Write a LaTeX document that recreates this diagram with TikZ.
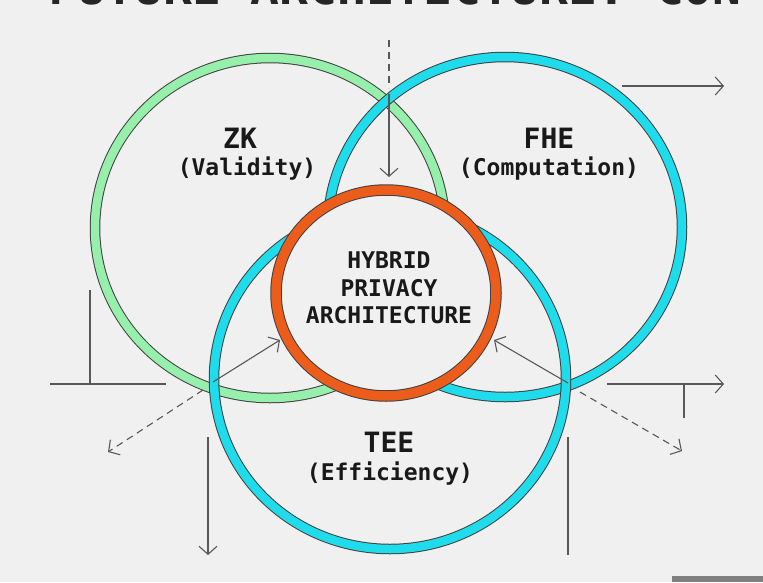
\documentclass[tikz,border=0pt]{standalone}
\usepackage{fontspec}
\setmonofont{DejaVu Sans Mono}
\usetikzlibrary{arrows.meta,calc}
\definecolor{paper}{RGB}{240,240,240}
\definecolor{zkgreen}{RGB}{150,240,172}
\definecolor{ringcyan}{RGB}{30,220,236}
\definecolor{hyborange}{RGB}{236,92,26}
\definecolor{ink}{RGB}{88,88,88}
\tikzset{
  ring/.style={line width=1pt, draw=black!75, double=#1, double distance=8.5pt},
  guide/.style={draw=ink, line width=1.1pt},
  barb/.style={-{Straight Barb[length=8pt,width=18pt,line width=1.1pt]}},
  dashline/.style={dash pattern=on 7pt off 5pt},
  areaname/.style={anchor=base, inner sep=0pt, text=black!90,
    font=\ttfamily\bfseries\fontsize{28}{30}\selectfont},
  areanote/.style={anchor=base, inner sep=0pt, text=black!90,
    font=\ttfamily\bfseries\fontsize{23}{27}\selectfont},
}

\begin{document}
\begin{tikzpicture}[x=1pt,y=-1pt]
  \clip (0,0) rectangle (763,582);
  \fill[paper] (0,0) rectangle (763,582);
  \node[anchor=base west, inner sep=0pt, text=black!85,
        font=\ttfamily\bfseries\fontsize{48}{50}\selectfont]
        (heading) at (48,4) {FUTURE ARCHITECTURE: CON};
  \fill[black!50] (672,576) rectangle (763,582);

  % the four rings
  \coordinate (zkc)  at (270,228);
  \coordinate (fhec) at (505,227);
  \coordinate (teec) at (390,379);
  \coordinate (hybc) at (386,293);
  \draw[ring=zkgreen]   (zkc)  ellipse [x radius=175pt, y radius=170pt];
  \draw[ring=ringcyan]  (fhec) ellipse [x radius=177pt, y radius=170pt];
  \draw[ring=ringcyan]  (teec) ellipse [x radius=176pt, y radius=170pt];
  \draw[ring=hyborange, double distance=9.5pt, fill=paper]
        (hybc) ellipse [x radius=110pt, y radius=103pt];

  \node[areaname] (zk)   at (240,148) {ZK};
  \node[areanote] (zkn)  at (247,175) {(Validity)};
  \node[areaname] (fhe)  at (549,148) {FHE};
  \node[areanote] (fhen) at (549,175) {(Computation)};
  \node[areaname] (tee)  at (389,452) {TEE};
  \node[areanote] (teen) at (390,480) {(Efficiency)};
  \node[inner sep=0pt, align=center, text=black!90,
        font=\ttfamily\bfseries\fontsize{23}{27.5}\selectfont]
        (hybrid) at (389,288) {HYBRID\\PRIVACY\\ARCHITECTURE};

  % guide marks
  \coordinate (topend)   at (389,40);
  \coordinate (topgap)   at (389,88);
  \coordinate (topcross) at (389,94);
  \coordinate (toptip)   at (389,177);
  \coordinate (nefrom) at (622,86);
  \coordinate (neto)   at (724,86);
  \coordinate (lcross) at (213,382);
  \coordinate (ltip)   at (280,340);
  \coordinate (ldash)  at (203,390);
  \coordinate (ldtip)  at (108,452);
  \coordinate (ldown)  at (208,437);
  \coordinate (ldtip2) at (208,555);
  \coordinate (rcross) at (568,383);
  \coordinate (rtip)   at (494,340);
  \coordinate (rdash)  at (580,392);
  \coordinate (rdtip)  at (682,451);
  \coordinate (rfrom)  at (607,384);
  \coordinate (rto)    at (724,384);
  \draw[guide,dashline] (topend) -- (topgap);
  \draw[guide,barb] (topcross) -- (toptip);
  \draw[guide,barb] (nefrom) -- (neto);
  \draw[guide] (90,290) -- (90,384)
               (50,384) -- (166,384);
  \draw[guide,barb] (lcross) -- (ltip);
  \draw[guide,barb,dashline] (ldash) -- (ldtip);
  \draw[guide,barb] (ldown) -- (ldtip2);
  \draw[guide,barb] (rcross) -- (rtip);
  \draw[guide,barb,dashline] (rdash) -- (rdtip);
  \draw[guide,barb] (rfrom) -- (rto);
  \draw[guide] (684,384) -- (684,418)
               (568,437) -- (568,555);
\end{tikzpicture}
\end{document}
